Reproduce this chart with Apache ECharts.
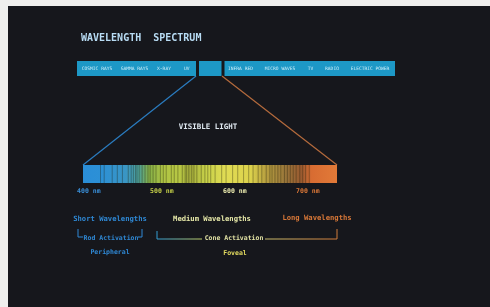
<!DOCTYPE html>
<html>
<head>
<meta charset="utf-8">
<script src="https://cdn.jsdelivr.net/npm/echarts@6/dist/echarts.min.js"></script>
<style>
    html, body { margin: 0; padding: 0; background: #efefed; }
    #chart { width: 490px; height: 307px; }
</style>
</head>
<body>
<div id="chart"></div>
<script>
// Electromagnetic bands along the top bar (relative band widths)
const emBands = ['COSMIC RAYS', 'GAMMA RAYS', 'X-RAY', 'UV', '', 'INFRA RED', 'MICRO WAVES', 'TV', 'RADIO', 'ELECTRIC POWER'];
const emWidths = [40, 35, 24, 21.5, 25.5, 35, 44, 17, 26, 50];
const visibleIndex = 4;

// Visible spectrum (nm)
const spectrumRange = [392, 740];
const tickNm = [400, 500, 600, 700];
const tickLabels = ['400 nm', '500 nm', '600 nm', '700 nm'];
// dark absorption-like stripes across the visible bar (nm)
const stripeNm = [416, 421, 432, 439, 446, 454, 458, 461, 464, 466, 469, 473, 477, 481, 484, 488, 492,
    498, 502, 506, 513, 517, 522, 528, 532, 534, 537, 541, 544, 548, 554, 559, 563, 567, 573, 582,
    588, 597, 604, 612, 619, 625, 632, 637, 643, 648, 651, 655, 659, 663, 668, 672, 676, 680, 684,
    689, 693, 697, 702];

// Wavelength groups and receptor notes
const groupLabels = ['Short Wavelengths', 'Medium Wavelengths', 'Long Wavelengths'];
const activationLabels = ['Rod Activation', 'Cone Activation'];
const fieldLabels = ['Peripheral', 'Foveal'];

const MONO = '"DejaVu Sans Mono", "Liberation Mono", monospace';
const BG = '#16171c';
const tickColors = ['#3a8fd8', '#c4cf48', '#eeeeb0', '#dc7838'];

// cumulative band starts
const emData = [];
let acc = 0;
emWidths.forEach((w, i) => {
    emData.push([acc, acc + w, i]);
    acc += w;
});
const emTotal = acc;

const chart = echarts.init(document.getElementById('chart'));

const spectrumFill = new echarts.graphic.LinearGradient(0, 0, 1, 0, [
    { offset: 0, color: '#2a8ed8' },
    { offset: 0.07, color: '#2c90d6' },
    { offset: 0.17, color: '#3a96c4' },
    { offset: 0.22, color: '#4ea098' },
    { offset: 0.26, color: '#86b048' },
    { offset: 0.32, color: '#b0c444' },
    { offset: 0.38, color: '#b8c844' },
    { offset: 0.42, color: '#a4ac3c' },
    { offset: 0.48, color: '#c6d048' },
    { offset: 0.56, color: '#e0dc54' },
    { offset: 0.66, color: '#dcd24c' },
    { offset: 0.72, color: '#b8a040' },
    { offset: 0.80, color: '#98743a' },
    { offset: 0.86, color: '#9a5a30' },
    { offset: 0.90, color: '#d86c32' },
    { offset: 1, color: '#e27a38' }
]);

const option = {
    backgroundColor: '#efefed',
    animation: false,
    title: {
        text: 'WAVELENGTH  SPECTRUM',
        left: 76,
        top: 28,
        textStyle: { color: '#b8dcf4', fontFamily: MONO, fontWeight: 'bold', fontSize: 10 }
    },
    grid: [
        { left: 77, top: 61, width: 318, height: 15 },
        { left: 83, top: 165, width: 254, height: 18 }
    ],
    xAxis: [
        { type: 'value', gridIndex: 0, min: 0, max: emTotal, show: false },
        {
            type: 'value', gridIndex: 1, min: spectrumRange[0], max: spectrumRange[1],
            splitLine: { show: false },
            axisLine: { show: false },
            axisTick: { show: false },
            axisLabel: {
                customValues: tickNm,
                margin: 5,
                fontFamily: MONO,
                fontWeight: 'bold',
                fontSize: 6.5,
                formatter: (v) => tickLabels[tickNm.indexOf(v)],
                color: (v) => tickColors[tickNm.indexOf(Number(v))]
            }
        }
    ],
    yAxis: [
        { type: 'value', gridIndex: 0, min: 0, max: 1, show: false },
        { type: 'value', gridIndex: 1, min: 0, max: 1, show: false }
    ],
    series: [
        {
            name: 'em',
            type: 'custom',
            xAxisIndex: 0,
            yAxisIndex: 0,
            data: emData,
            renderItem: (params, api) => {
                const i = api.value(2);
                const p0 = api.coord([api.value(0), 1]);
                const p1 = api.coord([api.value(1), 0]);
                let x0 = p0[0];
                let x1 = p1[0];
                if (i === visibleIndex) { x0 += 1.5; x1 -= 1.5; }
                if (i === visibleIndex - 1) x1 -= 1.5;
                if (i === visibleIndex + 1) x0 += 1.5;
                return {
                    type: 'group',
                    children: [
                        {
                            type: 'rect',
                            shape: { x: x0, y: p0[1], width: x1 - x0, height: p1[1] - p0[1] },
                            style: { fill: '#1d98c6' }
                        },
                        {
                            type: 'text',
                            style: {
                                text: emBands[i],
                                x: (p0[0] + p1[0]) / 2,
                                y: (p0[1] + p1[1]) / 2,
                                align: 'center',
                                verticalAlign: 'middle',
                                fill: '#cdeefa',
                                font: '4.6px ' + MONO
                            }
                        }
                    ]
                };
            }
        },
        {
            name: 'visible',
            type: 'custom',
            xAxisIndex: 1,
            yAxisIndex: 1,
            data: [spectrumRange],
            renderItem: (params, api) => {
                const p0 = api.coord([api.value(0), 1]);
                const p1 = api.coord([api.value(1), 0]);
                return {
                    type: 'rect',
                    shape: { x: p0[0], y: p0[1], width: p1[0] - p0[0], height: p1[1] - p0[1] },
                    style: { fill: spectrumFill }
                };
            }
        },
        {
            name: 'stripes',
            type: 'custom',
            xAxisIndex: 1,
            yAxisIndex: 1,
            data: stripeNm.map((v) => [v]),
            renderItem: (params, api) => {
                const p0 = api.coord([api.value(0), 1]);
                const p1 = api.coord([api.value(0), 0]);
                return {
                    type: 'rect',
                    shape: { x: p0[0] - 0.5, y: p0[1], width: 1, height: p1[1] - p0[1] },
                    style: { fill: 'rgba(30, 30, 10, 0.35)' }
                };
            }
        }
    ]
};

chart.setOption(option);

// Connectors from the visible band down to the spectrum, plus the labels
const visStart = emData[visibleIndex][0];
const visEnd = emData[visibleIndex][1];
const topL = chart.convertToPixel({ xAxisIndex: 0, yAxisIndex: 0 }, [visStart, 0]);
const topR = chart.convertToPixel({ xAxisIndex: 0, yAxisIndex: 0 }, [visEnd, 0]);
const botL = chart.convertToPixel({ xAxisIndex: 1, yAxisIndex: 1 }, [spectrumRange[0], 1]);
const botR = chart.convertToPixel({ xAxisIndex: 1, yAxisIndex: 1 }, [spectrumRange[1], 1]);

function label(text, x, y, color, size) {
    return {
        type: 'text',
        x: x,
        y: y,
        style: {
            text: text,
            align: 'center',
            verticalAlign: 'middle',
            fill: color,
            font: 'bold ' + size + 'px ' + MONO
        }
    };
}

chart.setOption({
    graphic: [
        { type: 'rect', z: -10, shape: { x: 8, y: 6, width: 482, height: 301 }, style: { fill: BG } },
        {
            type: 'line',
            shape: { x1: topL[0] - 1.5, y1: topL[1], x2: botL[0], y2: botL[1] },
            style: { stroke: '#2a7cc0', lineWidth: 1.2 }
        },
        {
            type: 'line',
            shape: { x1: topR[0] - 1, y1: topR[1], x2: botR[0], y2: botR[1] },
            style: { stroke: '#b46a3c', lineWidth: 1.2 }
        },
        label('VISIBLE LIGHT', 208, 127, '#dfe8f0', 7.5),
        label(groupLabels[0], 110, 219, '#2f88d4', 7.2),
        label(groupLabels[1], 212, 219, '#e6e8a8', 7.2),
        label(groupLabels[2], 317, 218, '#d87838', 7.2),
        {
            type: 'polyline',
            shape: { points: [[78, 229], [78, 237], [83, 237]] },
            style: { stroke: '#2f88d4', lineWidth: 1, fill: null }
        },
        {
            type: 'polyline',
            shape: { points: [[138, 237], [142, 237], [142, 229]] },
            style: { stroke: '#2f88d4', lineWidth: 1, fill: null }
        },
        label(activationLabels[0], 111, 238, '#2f88d4', 6.5),
        label(fieldLabels[0], 110, 252, '#2f88d4', 6.5),
        {
            type: 'polyline',
            shape: { points: [[157, 231], [157, 239], [202, 239]] },
            style: {
                fill: null,
                lineWidth: 1,
                stroke: new echarts.graphic.LinearGradient(0, 0, 1, 0, [
                    { offset: 0, color: '#2a9ad8' },
                    { offset: 1, color: '#c8d060' }
                ])
            }
        },
        {
            type: 'polyline',
            shape: { points: [[265, 239], [337, 239], [337, 229]] },
            style: {
                fill: null,
                lineWidth: 1,
                stroke: new echarts.graphic.LinearGradient(0, 0, 1, 0, [
                    { offset: 0, color: '#c8c070' },
                    { offset: 1, color: '#d07838' }
                ])
            }
        },
        label(activationLabels[1], 234, 238.5, '#e2e2a4', 6.5),
        label(fieldLabels[1], 235, 253, '#e4dc60', 6.5)
    ]
});
</script>
</body>
</html>
